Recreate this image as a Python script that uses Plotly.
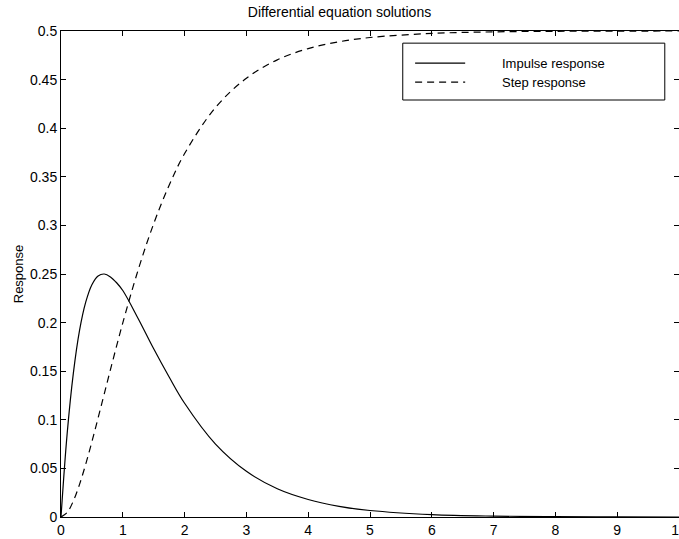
import plotly.graph_objs as go

# time samples and responses
t = [0, 0.1, 0.2, 0.3, 0.4, 0.5, 0.6, 0.7, 0.8, 0.9, 1.0, 1.25, 1.5, 1.75,
     2.0, 2.5, 3.0, 3.5, 4.0, 4.5, 5.0, 6.0, 7.0, 8.0, 9.0, 10.0]
impulse = [0, 0.086, 0.148, 0.192, 0.221, 0.239, 0.248, 0.250, 0.247, 0.241,
           0.233, 0.204, 0.173, 0.144, 0.117, 0.075, 0.047, 0.029, 0.018,
           0.011, 0.0067, 0.0025, 0.0009, 0.0003, 0.0001, 0.0]
step = [0, 0.0046, 0.0165, 0.0336, 0.0544, 0.0774, 0.1018, 0.1267, 0.1516,
        0.176, 0.1998, 0.2545, 0.3018, 0.3413, 0.3739, 0.4213, 0.4514, 0.4703,
        0.4819, 0.4889, 0.4933, 0.4975, 0.4991, 0.4997, 0.4999, 0.5]

font = "Liberation Sans, Arial, sans-serif"

fig = go.Figure()
fig.add_trace(go.Scatter(x=t, y=impulse, mode="lines", name="Impulse response",
                         line=dict(color="black", width=1.2, shape="spline"),
                         showlegend=False))
fig.add_trace(go.Scatter(x=t, y=step, mode="lines", name="Step response",
                         line=dict(color="black", width=1.2, shape="spline", dash="7px,5px"),
                         showlegend=False))

# legend box drawn by hand (matlab style)
fig.add_shape(type="rect", xref="paper", yref="paper", x0=0.553, x1=0.977, y0=0.858, y1=0.975,
              line=dict(color="black", width=1), fillcolor="white")
fig.add_shape(type="line", xref="paper", yref="paper", x0=0.573, x1=0.654, y0=0.934, y1=0.934,
              line=dict(color="black", width=1.2))
fig.add_shape(type="line", xref="paper", yref="paper", x0=0.573, x1=0.654, y0=0.895, y1=0.895,
              line=dict(color="black", width=1.2, dash="7px,5px"))
for yy, txt in [(0.934, "Impulse response"), (0.895, "Step response")]:
    fig.add_annotation(xref="paper", yref="paper", x=0.711, y=yy, text=txt, showarrow=False,
                       xanchor="left", yanchor="middle", font=dict(size=13, color="black"))

axis = dict(showline=True, linecolor="black", linewidth=1, mirror="ticks", ticks="inside",
            ticklen=5, tickcolor="black", showgrid=False, zeroline=False, automargin=False,
            ticklabeloverflow="allow", tickfont=dict(size=14, color="black"))

fig.update_layout(
    width=679, height=539,
    margin=dict(l=61, r=0, t=31, b=22),
    paper_bgcolor="white", plot_bgcolor="white",
    font=dict(family=font, color="black"),
    title=dict(text="Differential equation solutions", x=0.5, xanchor="center",
               y=0.978, yanchor="middle", font=dict(size=14)),
    xaxis=dict(axis, range=[0, 10], dtick=1),
    yaxis=dict(axis, range=[0, 0.5], dtick=0.05,
               title=dict(text="Response", font=dict(size=13), standoff=3)),
)

# drop the default page margin so the figure fills the window
fig.write_html("out.html", config={"displayModeBar": False},
               post_script="document.body.style.margin='0';")
